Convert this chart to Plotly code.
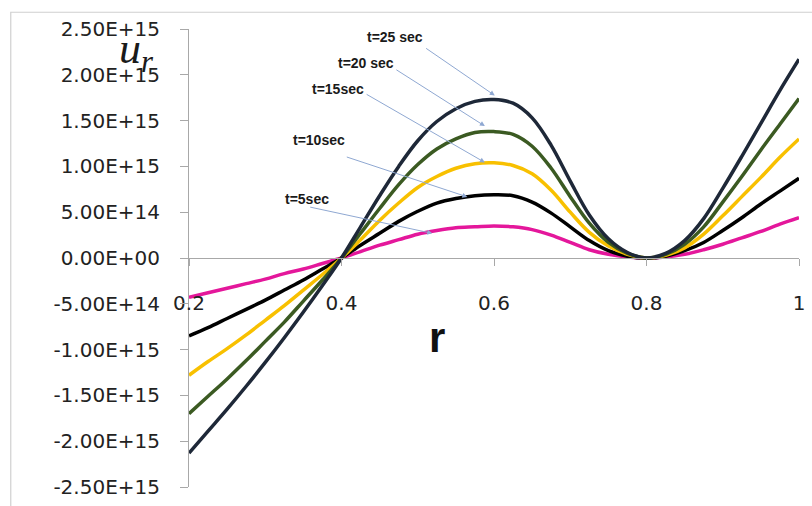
import plotly.graph_objects as go

# radial position
r = [0.2, 0.225, 0.25, 0.275, 0.3, 0.325, 0.35, 0.375, 0.4, 0.425, 0.45, 0.475, 0.5,
     0.525, 0.55, 0.575, 0.6, 0.625, 0.65, 0.675, 0.7, 0.725, 0.75, 0.775, 0.8,
     0.825, 0.85, 0.875, 0.9, 0.925, 0.95, 0.975, 1.0]

# u_r values (x1e15)
u_t5 = [-0.43, -0.38, -0.33, -0.28, -0.23, -0.17, -0.12, -0.06, 0.00, 0.07, 0.14, 0.20, 0.26,
        0.30, 0.33, 0.34, 0.35, 0.34, 0.31, 0.25, 0.17, 0.09, 0.04, 0.01, 0.00,
        0.01, 0.04, 0.09, 0.15, 0.22, 0.29, 0.37, 0.44]
u_t10 = [-0.85, -0.76, -0.66, -0.56, -0.46, -0.35, -0.24, -0.12, 0.00, 0.14, 0.27, 0.40, 0.51,
         0.60, 0.65, 0.68, 0.69, 0.68, 0.61, 0.49, 0.34, 0.19, 0.08, 0.02, 0.00,
         0.02, 0.08, 0.17, 0.30, 0.44, 0.59, 0.73, 0.87]
u_t15 = [-1.28, -1.13, -0.99, -0.84, -0.68, -0.52, -0.35, -0.18, 0.00, 0.20, 0.41, 0.60, 0.77,
         0.89, 0.98, 1.03, 1.04, 1.01, 0.92, 0.74, 0.50, 0.28, 0.13, 0.04, 0.00,
         0.03, 0.11, 0.26, 0.46, 0.67, 0.88, 1.10, 1.30]
u_t20 = [-1.70, -1.51, -1.32, -1.12, -0.91, -0.70, -0.47, -0.24, 0.00, 0.27, 0.54, 0.80, 1.02,
         1.19, 1.30, 1.37, 1.38, 1.35, 1.22, 0.98, 0.67, 0.38, 0.17, 0.05, 0.00,
         0.04, 0.15, 0.34, 0.61, 0.89, 1.18, 1.46, 1.74]
u_t25 = [-2.13, -1.89, -1.65, -1.40, -1.14, -0.87, -0.59, -0.30, 0.00, 0.34, 0.68, 1.00, 1.28,
         1.49, 1.63, 1.71, 1.73, 1.69, 1.53, 1.23, 0.84, 0.47, 0.21, 0.06, 0.00,
         0.05, 0.19, 0.43, 0.76, 1.11, 1.47, 1.83, 2.17]

series_names = ["t=5sec", "t=10sec", "t=15sec", "t=20 sec", "t=25 sec"]
series_vals = [u_t5, u_t10, u_t15, u_t20, u_t25]
colors = ["#E4179B", "#000000", "#F8C000", "#3B5A22", "#1E2838"]

ytick_vals = [2.5, 2.0, 1.5, 1.0, 0.5, 0.0, -0.5, -1.0, -1.5, -2.0, -2.5]
ytick_text = ["2.50E+15", "2.00E+15", "1.50E+15", "1.00E+15", "5.00E+14", "0.00E+00",
              "-5.00E+14", "-1.00E+15", "-1.50E+15", "-2.00E+15", "-2.50E+15"]
xtick_vals = [0.2, 0.4, 0.6, 0.8, 1.0]
xtick_text = ["0.2", "0.4", "0.6", "0.8", "1"]

# label positions / arrow tails & tips (r, u x1e15)
label_pos = [(0.3545, 0.645), (0.370, 1.29), (0.396, 1.85), (0.4325, 2.13), (0.470, 2.41)]
arrow_tail = [(0.357, 0.559), (0.405, 1.108), (0.431, 1.796), (0.470, 2.065), (0.509, 2.30)]
arrow_tip = [(0.519, 0.269), (0.565, 0.667), (0.588, 1.043), (0.588, 1.44), (0.601, 1.774)]

SCALE = 1e15

fig = go.Figure()
for name, vals, c in zip(series_names, series_vals, colors):
    fig.add_trace(go.Scatter(
        x=r, y=[v * SCALE for v in vals], mode="lines", name=name,
        line=dict(color=c, width=3.5, shape="spline", smoothing=1.0),
        showlegend=False,
    ))

annotations = []
for name, (lx, ly), (tx, ty), (hx, hy) in zip(series_names, label_pos, arrow_tail, arrow_tip):
    annotations.append(dict(
        x=lx, y=ly * SCALE, xref="x", yref="y", text="<b>" + name + "</b>",
        showarrow=False, font=dict(family="Liberation Sans", size=14, color="#1a1a1a"),
        xanchor="center", yanchor="middle",
    ))
    annotations.append(dict(
        x=hx, y=hy * SCALE, ax=tx, ay=ty * SCALE, xref="x", yref="y",
        axref="x", ayref="y", text="", showarrow=True, arrowhead=2,
        arrowsize=1, arrowwidth=1, arrowcolor="#8FA8D2",
    ))

W, H = 812, 506
ML, MR, MT, MB = 189, 7, 29, 12
PW, PH = W - ML - MR, H - MT - MB


def px(xp):
    return (xp - ML) / PW


def py(yp):
    return (H - MB - yp) / PH


# y-axis title u_r
annotations.append(dict(
    x=px(116), y=py(22), xref="paper", yref="paper",
    text="<i>u</i><sub><i>r</i></sub>", showarrow=False,
    font=dict(family="Liberation Serif", size=44, color="#1a1a1a"),
    xanchor="left", yanchor="top",
))
# x-axis title r
annotations.append(dict(
    x=px(439), y=py(342), xref="paper", yref="paper",
    text="<b>r</b>", showarrow=False,
    font=dict(family="Liberation Sans", size=42, color="#111111"),
    xanchor="center", yanchor="middle",
))

fig.update_layout(
    width=W, height=H,
    margin=dict(l=ML, r=MR, t=MT, b=MB),
    paper_bgcolor="white", plot_bgcolor="white",
    annotations=annotations,
    shapes=[dict(type="rect", xref="paper", yref="paper",
                 x0=px(9), x1=px(830), y0=py(520), y1=py(12),
                 line=dict(color="#D0D0D0", width=1.2), layer="below")],
    xaxis=dict(
        range=[0.2, 1.0], tickvals=xtick_vals, ticktext=xtick_text,
        showgrid=False, zeroline=False, showline=True, linecolor="#A8A8A8", linewidth=1,
        ticks="outside", ticklen=7, tickcolor="#A8A8A8",
        anchor="free", position=0.5, ticklabelstandoff=20,
        tickfont=dict(family="DejaVu Sans", size=20, color="#222222"),
    ),
    yaxis=dict(
        range=[-2.5 * SCALE, 2.5 * SCALE], tickvals=[v * SCALE for v in ytick_vals], ticktext=ytick_text,
        showgrid=False, zeroline=False, showline=True, linecolor="#A8A8A8", linewidth=1,
        ticks="outside", ticklen=8, tickcolor="#A8A8A8", ticklabelstandoff=16,
        tickfont=dict(family="DejaVu Sans", size=20, color="#222222"),
    ),
)

fig.write_html("out.html")
